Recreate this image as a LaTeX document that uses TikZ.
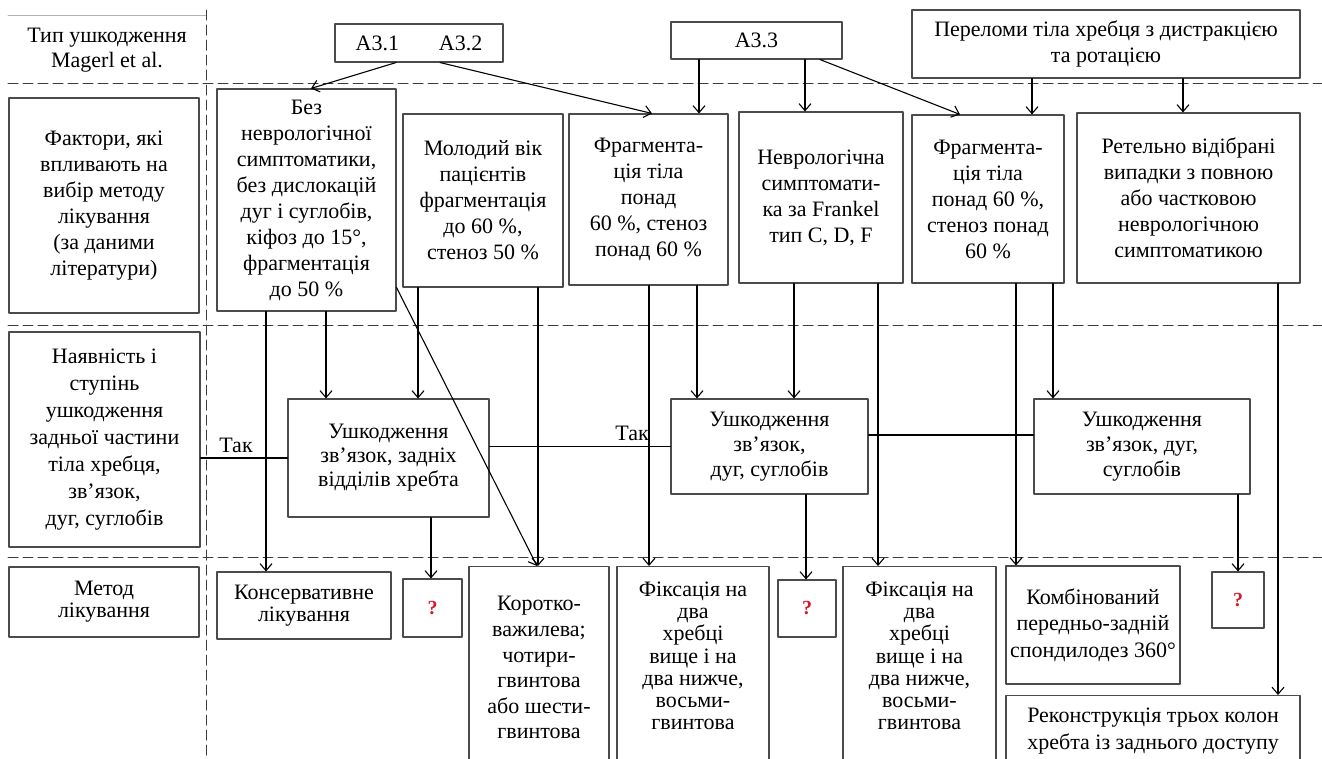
\documentclass[tikz,border=0pt]{standalone}
\usepackage{fontspec}
\setmainfont{Liberation Serif}
\usepackage{xcolor}
\usetikzlibrary{arrows.meta}

\definecolor{ramka}{RGB}{75,75,75}
\definecolor{shtrykh}{RGB}{60,60,60}
\definecolor{pytannia}{RGB}{215,25,45}

\begin{document}
\begin{tikzpicture}[line cap=round,line join=round,>={Straight Barb[length=7pt,width=12pt]},x=1pt,y=-1pt,
	blok/.style={draw=ramka,line width=1.1pt,align=center,inner sep=0pt,font=\fontsize{22}{26}\selectfont},
	vidkr/.style={blok,anchor=north,text depth=90pt},
	pyt/.style={draw=ramka,line width=1.1pt,inner sep=0pt,text=pytannia,font=\fontsize{20}{20}\selectfont\bfseries},
	napys/.style={align=center,inner sep=0pt,font=\fontsize{22}{25}\selectfont},
	strilka/.style={->,line width=1.1pt},
	liniia/.style={line width=1.1pt},
	rozdil/.style={draw=shtrykh,line width=1pt,dash pattern=on 10pt off 5pt}]
		\useasboundingbox (0,0) rectangle (1322,758);
		\clip (0,0) rectangle (1322,758);
		\draw [color=gray!60,line width=0.8pt] (8,15)-- (206,15);
		\draw [rozdil] (8,83)-- (1322,83);
		\draw [rozdil] (8,325)-- (1322,325);
		\draw [rozdil] (8,557)-- (1322,557);
		\draw [rozdil] (206,10)-- (206,758);

		\node[napys] (typ) at (107,50) {Тип ушкодження\\Magerl et al.};
		\node[blok,minimum width=190pt,minimum height=215pt] (faktory) at (104,205.5) {Фактори, які\\впливають на\\вибір методу\\лікування\\(за даними\\літератури)};
		\node[blok,minimum width=191pt,minimum height=215pt,font=\fontsize{22}{27}\selectfont] (nayavn) at (104.5,439.5) {Наявність і\\ступінь\\ушкодження\\задньої частини\\тіла хребця,\\зв’язок,\\дуг, суглобів};
		\node[blok,minimum width=190pt,minimum height=70pt,font=\fontsize{22}{22}\selectfont] (metod) at (104,602) {Метод\\лікування};

		\node[blok,minimum width=168pt,minimum height=38pt] (a312) at (419,43) {A3.1\hspace{40pt}A3.2};
		\node[blok,minimum width=171pt,minimum height=37pt] (a33) at (756.5,40.5) {A3.3};
		\node[blok,minimum width=388pt,minimum height=68pt] (perelomy) at (1106,44) {Переломи тіла хребця з дистракцією\\та ротацією};

		\node[blok,minimum width=179pt,minimum height=222pt] (bez) at (306.5,200) {Без\\неврологічної\\симптоматики,\\без дислокацій\\дуг і суглобів,\\кіфоз до 15°,\\фрагментація\\до 50 \%};
		\node[blok,minimum width=160pt,minimum height=173pt] (molod) at (483,200.5) {Молодий вік\\пацієнтів\\фрагментація\\до 60 \%,\\стеноз 50 \%};
		\node[blok,minimum width=159pt,minimum height=171pt] (frag1) at (648.5,199.5) {Фрагмента-\\ція тіла\\понад\\60 \%, стеноз\\понад 60 \%};
		\node[blok,minimum width=164pt,minimum height=171pt] (nevr) at (821,197.5) {Неврологічна\\симптомати-\\ка за Frankel\\тип C, D, F};
		\node[blok,minimum width=152pt,minimum height=168pt] (frag2) at (988,199) {Фрагмента-\\ція тіла\\понад 60 \%,\\стеноз понад\\60 \%};
		\node[blok,minimum width=223pt,minimum height=170pt] (retel) at (1188.5,198) {Ретельно відібрані\\випадки з повною\\або частковою\\неврологічною\\симптоматикою};

		\node[blok,minimum width=201pt,minimum height=118pt,font=\fontsize{22}{24}\selectfont] (ush1) at (388.5,458) {Ушкодження\\зв’язок, задніх\\відділів хребта};
		\node[blok,minimum width=197pt,minimum height=95pt,font=\fontsize{22}{25}\selectfont] (ush2) at (769.5,446.5) {Ушкодження\\зв’язок,\\дуг, суглобів};
		\node[blok,minimum width=216pt,minimum height=95pt,font=\fontsize{22}{25}\selectfont] (ush3) at (1142,446.5) {Ушкодження\\зв’язок, дуг,\\суглобів};

		\node[blok,minimum width=174pt,minimum height=67pt,font=\fontsize{22}{22}\selectfont] (konserv) at (304,605.5) {Консервативне\\лікування};
		\node[pyt,minimum width=59pt,minimum height=58pt] (pyt1) at (432.5,608) {?};
		\node[vidkr,minimum width=140pt,inner ysep=30pt,font=\fontsize{22}{25.6}\selectfont] (korotko) at (539,566) {Коротко-\\важилева;\\чотири-\\гвинтова\\або шести-\\гвинтова};
		\node[vidkr,minimum width=152pt,inner ysep=15pt,font=\fontsize{22}{22.3}\selectfont] (fix1) at (693,566) {Фіксація на\\два\\хребці\\вище і на\\два нижче,\\восьми-\\гвинтова};
		\node[pyt,minimum width=58pt,minimum height=57pt] (pyt2) at (807,608.5) {?};
		\node[vidkr,minimum width=153pt,inner ysep=15pt,font=\fontsize{22}{22.3}\selectfont] (fix2) at (919.5,566) {Фіксація на\\два\\хребці\\вище і на\\два нижче,\\восьми-\\гвинтова};
		\node[blok,minimum width=174pt,minimum height=118pt,font=\fontsize{22}{26.5}\selectfont] (kombin) at (1093,625) {Комбінований\\передньо-задній\\спондилодез 360°};
		\node[pyt,minimum width=52pt,minimum height=56pt] (pyt3) at (1238,600) {?};
		\node[vidkr,minimum width=294pt,inner ysep=12pt,font=\fontsize{22}{27}\selectfont] (rekon) at (1153,695) {Реконструкція трьох колон\\хребта із заднього доступу};

		\node[napys] (tak1) at (236,445) {Так};
		\node[napys] (tak2) at (632,433) {Так};

		\draw[strilka] (a312.south -| 396,0) -- (bez.north -| 311,0);
		\draw[strilka] (a312.south -| 440,0) -- (frag1.north -| 652,0);
		\draw[strilka] (a33.south -| 699,0) -- (frag1.north -| 699,0);
		\draw[strilka] (a33.south -| 805,0) -- (nevr.north -| 805,0);
		\draw[strilka] (a33.south -| 820,0) -- (frag2.north -| 960,0);
		\draw[strilka] (perelomy.south -| 1032,0) -- (frag2.north -| 1032,0);
		\draw[strilka] (perelomy.south -| 1183,0) -- (retel.north -| 1183,0);

		\draw[strilka] (bez.south -| 266,0) -- (konserv.north -| 266,0);
		\draw[strilka] (bez.south -| 326,0) -- (ush1.north -| 326,0);
		\draw[strilka] (bez.east |- molod.south) -- (korotko.north -| 537,0);
		\draw[strilka] (molod.south -| 418,0) -- (ush1.north -| 418,0);
		\draw[strilka] (molod.south -| 538,0) -- (korotko.north -| 538,0);
		\draw[strilka] (frag1.south -| 649,0) -- (fix1.north -| 649,0);
		\draw[strilka] (frag1.south -| 697,0) -- (ush2.north -| 697,0);
		\draw[strilka] (nevr.south -| 794,0) -- (ush2.north -| 794,0);
		\draw[strilka] (nevr.south -| 878,0) -- (fix2.north -| 878,0);
		\draw[strilka] (frag2.south -| 1016,0) -- (kombin.north -| 1016,0);
		\draw[strilka] (frag2.south -| 1053,0) -- (ush3.north -| 1053,0);
		\draw[strilka] (retel.south -| 1278,0) -- (rekon.north -| 1278,0);
		\draw[strilka] (ush1.south -| 431,0) -- (pyt1.north -| 431,0);
		\draw[strilka] (ush2.south -| 806,0) -- (pyt2.north -| 806,0);
		\draw[strilka] (ush3.south -| 1238,0) -- (pyt3.north -| 1238,0);

		\draw[liniia] (nayavn.east |- ush1.west) -- (ush1.west);
		\draw[liniia] (ush1.east |- ush2.west) -- (ush2.west);
		\draw[liniia] (ush2.east |- 0,435) -- (ush3.west |- 0,435);
	\end{tikzpicture}
\end{document}
